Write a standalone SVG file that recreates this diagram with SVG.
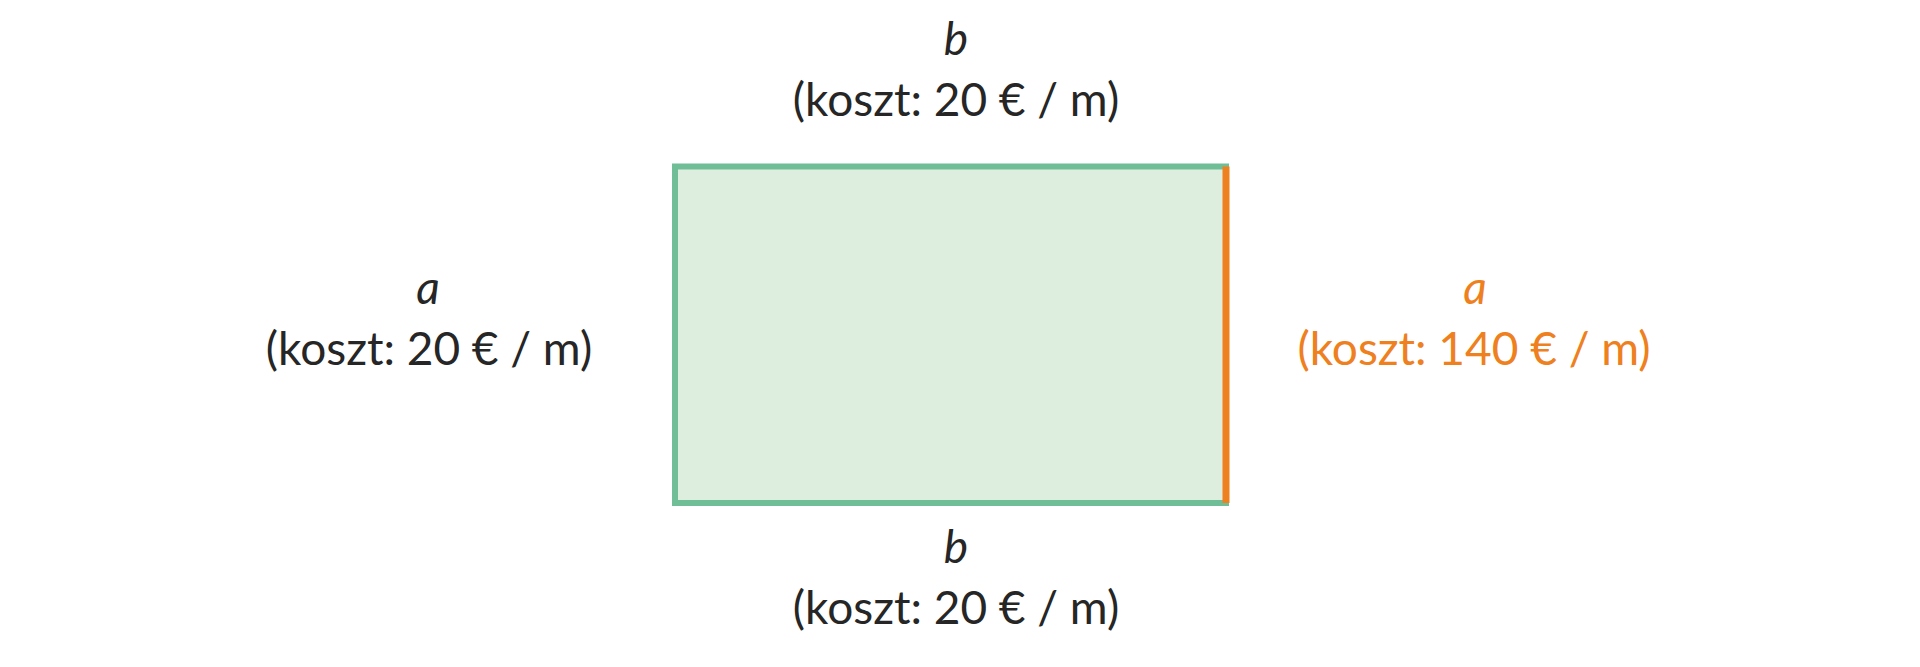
<svg xmlns="http://www.w3.org/2000/svg" width="1920" height="667" viewBox="0 0 1920 667">
<style>
text{font-family:Lato,"Open Sans","Liberation Sans",sans-serif;font-size:46px;text-anchor:middle;fill:#262626}
.v{font-style:italic}
.o{fill:#EE8020}
</style>
<rect width="1920" height="667" fill="#fff"/>
<g id="field">
<rect x="675" y="166.5" width="551" height="336.5" fill="#DDEEDF" stroke="#70BE98" stroke-width="6"/>
<line x1="1226" y1="166.5" x2="1226" y2="503" stroke="#EE8020" stroke-width="7"/>
</g>
<g id="label-top">
<text class="v" x="956" y="55">b</text>
<text x="956" y="116">(koszt: 20 € / m)</text>
</g>
<g id="label-left">
<text class="v" x="428" y="304">a</text>
<text x="429" y="365">(koszt: 20 € / m)</text>
</g>
<g id="label-right">
<text class="v o" x="1475" y="304">a</text>
<text class="o" x="1474" y="365">(koszt: 140 € / m)</text>
</g>
<g id="label-bottom">
<text class="v" x="956" y="563">b</text>
<text x="956" y="624">(koszt: 20 € / m)</text>
</g>
</svg>
